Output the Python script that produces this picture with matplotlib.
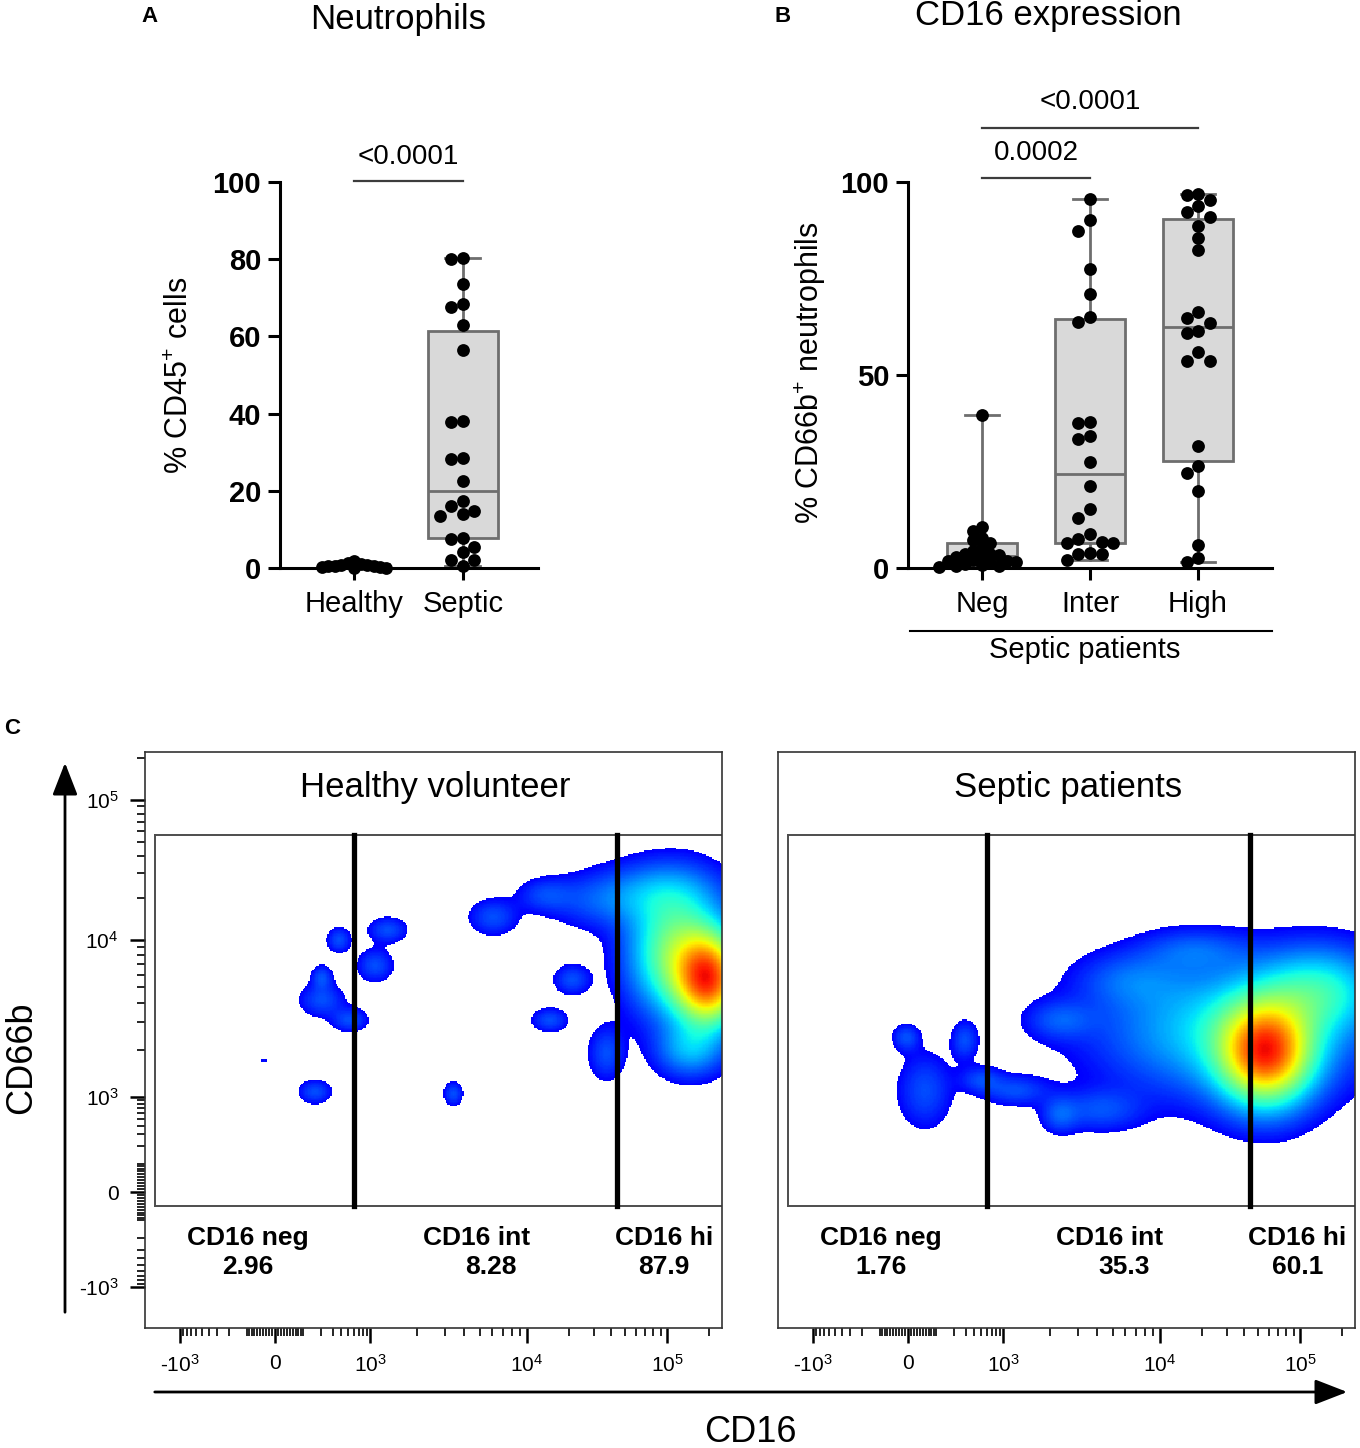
import numpy as np
import matplotlib
matplotlib.use('Agg')
import matplotlib.pyplot as plt
from matplotlib.colors import LinearSegmentedColormap
from matplotlib.patches import FancyArrowPatch

plt.rcParams['font.family'] = ['Liberation Sans', 'DejaVu Sans']
plt.rcParams['mathtext.default'] = 'regular'

# ---------------- panel A: % CD45+ cells
groups_a = ['Healthy', 'Septic']
healthy = [0.1, 1.8, 0.9, 1.4, 0.4, 1.1, 0.3, 0.2, 0.0, 0.6, 0.5, 0.8]
septic = [80.0, 80.2, 73.5, 67.6, 68.5, 62.9, 56.6, 37.7, 38.2, 28.2, 28.4, 22.5,
          16.0, 17.3, 13.4, 14.0, 14.7, 7.6, 7.8, 4.2, 5.4, 2.2, 2.2, 0.4]
p_a = '<0.0001'

# ---------------- panel B: % CD66b+ neutrophils
groups_b = ['Neg', 'Inter', 'High']
neg = [39.6, 10.5, 9.6, 7.9, 7.2, 6.6, 5.3, 4.5, 3.6, 3.6, 3.4, 3.0, 2.8, 2.2,
       1.9, 1.9, 1.6, 1.2, 1.0, 0.8, 0.6, 0.4, 0.2]
inter = [95.7, 90.1, 87.3, 77.5, 70.9, 64.9, 63.7, 37.9, 37.6, 34.2, 33.3, 27.5,
         21.3, 15.4, 12.9, 8.8, 7.5, 6.8, 6.4, 6.4, 4.0, 3.6, 3.6, 2.2]
high = [97.0, 96.6, 95.3, 93.8, 92.3, 91.0, 88.6, 85.4, 82.4, 66.4, 64.7, 63.5,
        61.3, 60.8, 55.9, 53.5, 53.5, 31.6, 26.4, 24.7, 20.0, 6.0, 2.6, 1.5]
p_b = ['0.0002', '<0.0001']

# ---------------- panel C: flow populations (CD16, CD66b, spread x, spread y, weight)
hv_clusters = [
    (2.0e5, 5.6e3, 22, 30, 10), (1.15e5, 8.4e3, 30, 40, 5), (8.9e4, 2.2e4, 40, 20, 1.5),
    (3.3e4, 1.9e4, 35, 18, 0.9), (1.34e4, 2.1e4, 18, 11, 0.8), (1.46e5, 2.0e3, 22, 18, 2),
    (3.7e4, 1.9e3, 12, 18, 1), (2.1e4, 5.6e3, 12, 10, 1), (1.46e4, 3.1e3, 12, 8, 1),
    (6.1e3, 1.46e4, 16, 12, 1), (1.3e3, 1.18e4, 13, 8.5, 1), (1.08e3, 6.9e3, 12, 11, 1),
    (370, 1.0e4, 8, 8.5, 1), (209, 4.15e3, 15, 11, 1), (529, 3.1e3, 12, 8, 1),
    (209, 5.8e3, 7, 8, 1), (163, 1.08e3, 11, 8, 1), (3.4e3, 1.05e3, 6.5, 8, 1),
    (-35, 1.7e3, 3, 1.5, 0.5),
]
sp_clusters = [
    (5.7e4, 1.9e3, 30, 33, 10), (3.2e4, 2.7e3, 80, 42, 3), (1.39e5, 4.8e3, 40, 28, 3),
    (6.5e3, 5.6e3, 35, 18, 1), (1.75e4, 8.6e3, 35, 14, 1), (2.3e3, 3.1e3, 22, 13, 1),
    (4.15e3, 660, 28, 14, 1), (1.2e3, 1.1e3, 22, 10, 1), (2.3e3, 564, 12, 12, 1),
    (56, 1.1e3, 18, 25, 1), (-6, 2.4e3, 9, 9, 1), (294, 2.3e3, 9, 13, 1),
    (500, 1.3e3, 14, 9, 0.9),
]
gate_edges = [-1440, 600, 4.4e4, 4e5]
gate_top, gate_bottom = 5.6e4, -45
gate_names = ['CD16 neg', 'CD16 int', 'CD16 hi']
hv_pct = ['2.96', '8.28', '87.9']
sp_pct = ['1.76', '35.3', '60.1']

# biexponential-like display scale
anchor_v = np.array([-1e4, -1e3, 0, 1e3, 1e4, 1e5, 1e6])
anchor_p = np.array([-253, -95, 0, 95, 252, 392, 532.])
anchor_g = np.arcsinh(anchor_v / 100)


def fwd(v):
    return np.interp(np.arcsinh(np.asarray(v, float) / 100), anchor_g, anchor_p)


def inv(p):
    return 100 * np.sinh(np.interp(np.asarray(p, float), anchor_p, anchor_g))


def swarm(vals, px_unit, px_cat, step=11.5):
    vals = np.asarray(vals, float)
    xs = np.zeros(len(vals))
    placed = []
    for i in np.argsort(-vals):
        y = vals[i] * px_unit
        for k in [0, -1, 1, -2, 2, -3, 3, -4, 4, -5, 5, -6, 6, -7, 7]:
            x = k * step
            if all((x - a) ** 2 + (y - b) ** 2 >= (step * 0.98) ** 2 for a, b in placed):
                break
        placed.append((x, y))
        xs[i] = x / px_cat
    return xs


def box_stats(vals):
    v = np.asarray(vals, float)
    q1, med, q3 = np.percentile(v, [25, 50, 75], method='weibull')
    return dict(med=med, q1=q1, q3=q3, whislo=v.min(), whishi=v.max(), fliers=[])


def dot_box(ax, data, px_cat, steps):
    gray = '#6e6e6e'
    ax.bxp([box_stats(d) for d in data], positions=range(len(data)), widths=0.64,
           capwidths=0.32, patch_artist=True, showfliers=False,
           boxprops=dict(facecolor='#d9d9d9', edgecolor=gray, lw=2),
           medianprops=dict(color=gray, lw=2), whiskerprops=dict(color=gray, lw=2),
           capprops=dict(color=gray, lw=2), zorder=2)
    for i, d in enumerate(data):
        ax.scatter(i + swarm(d, 3.86, px_cat, steps[i]), d, s=85, color='black', lw=0,
                   zorder=4, clip_on=False)


def style_dot_axes(ax, labels, yticks):
    for s in ['top', 'right']:
        ax.spines[s].set_visible(False)
    for s in ['left', 'bottom']:
        ax.spines[s].set_linewidth(2.2)
    ax.tick_params(length=8.5, width=2.2, pad=5)
    ax.tick_params(axis='x', pad=7)
    ax.set_xticks(range(len(labels)))
    ax.set_xticklabels(labels, fontsize=21)
    ax.set_yticks(yticks)
    ax.set_yticklabels([str(t) for t in yticks], fontsize=21, fontweight='bold')
    ax.set_ylim(0, 100)


fig = plt.figure(figsize=(13.6, 14.48), dpi=100)
W, H = 1360, 1448

# ---------- A
ax_a = fig.add_axes([280 / W, 1 - 568 / H, 258 / W, 386 / H])
dot_box(ax_a, [healthy, septic], 109, [6.5, 11.5])
style_dot_axes(ax_a, groups_a, [0, 20, 40, 60, 80, 100])
ax_a.set_xlim(-0.68, 1.69)
ax_a.plot([0, 1], [100.3, 100.3], color='#3c3c3c', lw=1.6, clip_on=False)
ax_a.text(0.5, 106.5, p_a, ha='center', va='center', fontsize=20)
fig.text(180 / W, 1 - 375 / H, r'% CD$45^{+}$ cells', rotation=90, ha='center', va='center', fontsize=22)
fig.text(398 / W, 1 - 20 / H, 'Neutrophils', ha='center', va='center', fontsize=25)
fig.text(150 / W, 1 - 16 / H, 'A', ha='center', va='center', fontsize=16, fontweight='bold')

# ---------- B
ax_b = fig.add_axes([908 / W, 1 - 568 / H, 364 / W, 386 / H])
dot_box(ax_b, [neg, inter, high], 108, [8.5, 11.5, 11.5])
style_dot_axes(ax_b, groups_b, [0, 50, 100])
ax_b.set_xlim(-0.685, 2.685)
ax_b.plot([0, 1], [101, 101], color='#3c3c3c', lw=1.6, clip_on=False)
ax_b.text(0.5, 107.5, p_b[0], ha='center', va='center', fontsize=20)
ax_b.plot([0, 2], [114, 114], color='#3c3c3c', lw=1.6, clip_on=False)
ax_b.text(1.0, 120.7, p_b[1], ha='center', va='center', fontsize=20)
ax_b.plot([0.005, 1], [-0.163, -0.163], transform=ax_b.transAxes, color='black', lw=1.5, clip_on=False)
ax_b.text(0.486, -0.212, 'Septic patients', transform=ax_b.transAxes, ha='center', va='center', fontsize=21)
fig.text(810 / W, 1 - 373 / H, r'% CD$66b^{+}$ neutrophils', rotation=90, ha='center', va='center', fontsize=22)
fig.text(1048 / W, 1 - 16 / H, 'CD16 expression', ha='center', va='center', fontsize=25)
fig.text(783 / W, 1 - 16 / H, 'B', ha='center', va='center', fontsize=16, fontweight='bold')

# ---------- C
flow_cmap = LinearSegmentedColormap.from_list('flow', plt.cm.jet(np.linspace(0.12, 0.9, 256)))
px = np.linspace(-130, 447, 420)
py = np.linspace(-136, 440, 420)
PX, PY = np.meshgrid(px, py)
thr = 0.3

major = [-1e3, 0, 1e3, 1e4, 1e5]
major_lbl = ['-10$^3$', '0', '10$^3$', '10$^4$', '10$^5$']
minor = ([-k * 100 for k in range(1, 10)] + [-k * 10 for k in range(1, 10)]
         + [k * 10 for k in range(1, 10)] + [k * 100 for k in range(1, 10)]
         + [k * 1000 for k in range(2, 10)] + [k * 1e4 for k in range(2, 10)] + [2e5])
tick_font = dict(family=['Liberation Sans Narrow', 'Liberation Sans'], size=15)


def flow_panel(left, clusters, title, pcts, show_y):
    ax = fig.add_axes([left / W, 1 - 1328 / H, 577 / W, 576 / H])
    ax.set_xscale('function', functions=(fwd, inv))
    ax.set_yscale('function', functions=(fwd, inv))
    ax.set_xlim(inv(-130), inv(447))
    ax.set_ylim(inv(-136), inv(440))
    d = np.zeros_like(PX)
    for cx, cy, sx, sy, w in clusters:
        d += w * np.exp(-0.5 * (((PX - fwd(cx)) / sx) ** 2 + ((PY - fwd(cy)) / sy) ** 2))
    c = np.clip((d - thr) / (d.max() - thr), 0, 1) ** 0.8
    c = np.ma.masked_where(d < thr, c)
    ax.pcolormesh(inv(px), inv(py), c, cmap=flow_cmap, vmin=0, vmax=1, shading='auto',
                  zorder=1, rasterized=True)
    gcol = '#4d4d4d'
    ax.plot([gate_edges[0], gate_edges[-1]], [gate_top, gate_top], color=gcol, lw=1.4, zorder=2)
    ax.plot([gate_edges[0], gate_edges[-1]], [gate_bottom, gate_bottom], color=gcol, lw=1.4, zorder=2)
    ax.plot([gate_edges[0], gate_edges[0]], [gate_bottom, gate_top], color=gcol, lw=1.4, zorder=2)
    for e in gate_edges[1:3]:
        ax.plot([e, e], [gate_bottom, gate_top], color='black', lw=3.8, zorder=3)
    for s in ax.spines.values():
        s.set_linewidth(1.2)
        s.set_color('#333333')
    ax.set_xticks(major)
    ax.set_xticklabels(major_lbl, fontdict=tick_font)
    ax.set_xticks(minor, minor=True)
    ax.set_yticks(major)
    ax.set_yticklabels(major_lbl, fontdict=tick_font)
    ax.set_yticks(minor, minor=True)
    ax.tick_params(which='major', length=11, width=1.8, direction='out', pad=8)
    ax.tick_params(which='minor', length=6, width=1.2, direction='out')
    if not show_y:
        ax.tick_params(axis='y', which='both', left=False, labelleft=False)
    ax.text(0.503, 0.939, title, transform=ax.transAxes, ha='center', va='center', fontsize=25)
    xs_name = [0.178, 0.575, 0.9]
    xs_pct = [0.178, 0.6, 0.9]
    for i in range(3):
        ax.text(xs_name[i], 0.156, gate_names[i], transform=ax.transAxes, ha='center',
                va='center', fontsize=19, fontweight='bold', zorder=5)
        ax.text(xs_pct[i], 0.106, pcts[i], transform=ax.transAxes, ha='center',
                va='center', fontsize=19, fontweight='bold', zorder=5)
    return ax


flow_panel(145, hv_clusters, 'Healthy volunteer', hv_pct, True)
flow_panel(778, sp_clusters, 'Septic patients', sp_pct, False)

fig.add_artist(FancyArrowPatch((65 / W, 1 - 1315 / H), (65 / W, 1 - 760 / H), transform=fig.transFigure,
                               arrowstyle='-|>,head_length=0.9,head_width=0.35', mutation_scale=22,
                               lw=2, color='black'))
fig.add_artist(FancyArrowPatch((152 / W, 1 - 1392 / H), (1350 / W, 1 - 1392 / H), transform=fig.transFigure,
                               arrowstyle='-|>,head_length=0.9,head_width=0.35', mutation_scale=22,
                               lw=2, color='black'))
fig.text(22 / W, 1 - 1058 / H, 'CD66b', rotation=90, ha='center', va='center', fontsize=26)
fig.text(750 / W, 1 - 1432 / H, 'CD16', ha='center', va='center', fontsize=26)
fig.text(12 / W, 1 - 728 / H, 'C', ha='center', va='center', fontsize=16, fontweight='bold')

fig.savefig('out.png', dpi=100)
